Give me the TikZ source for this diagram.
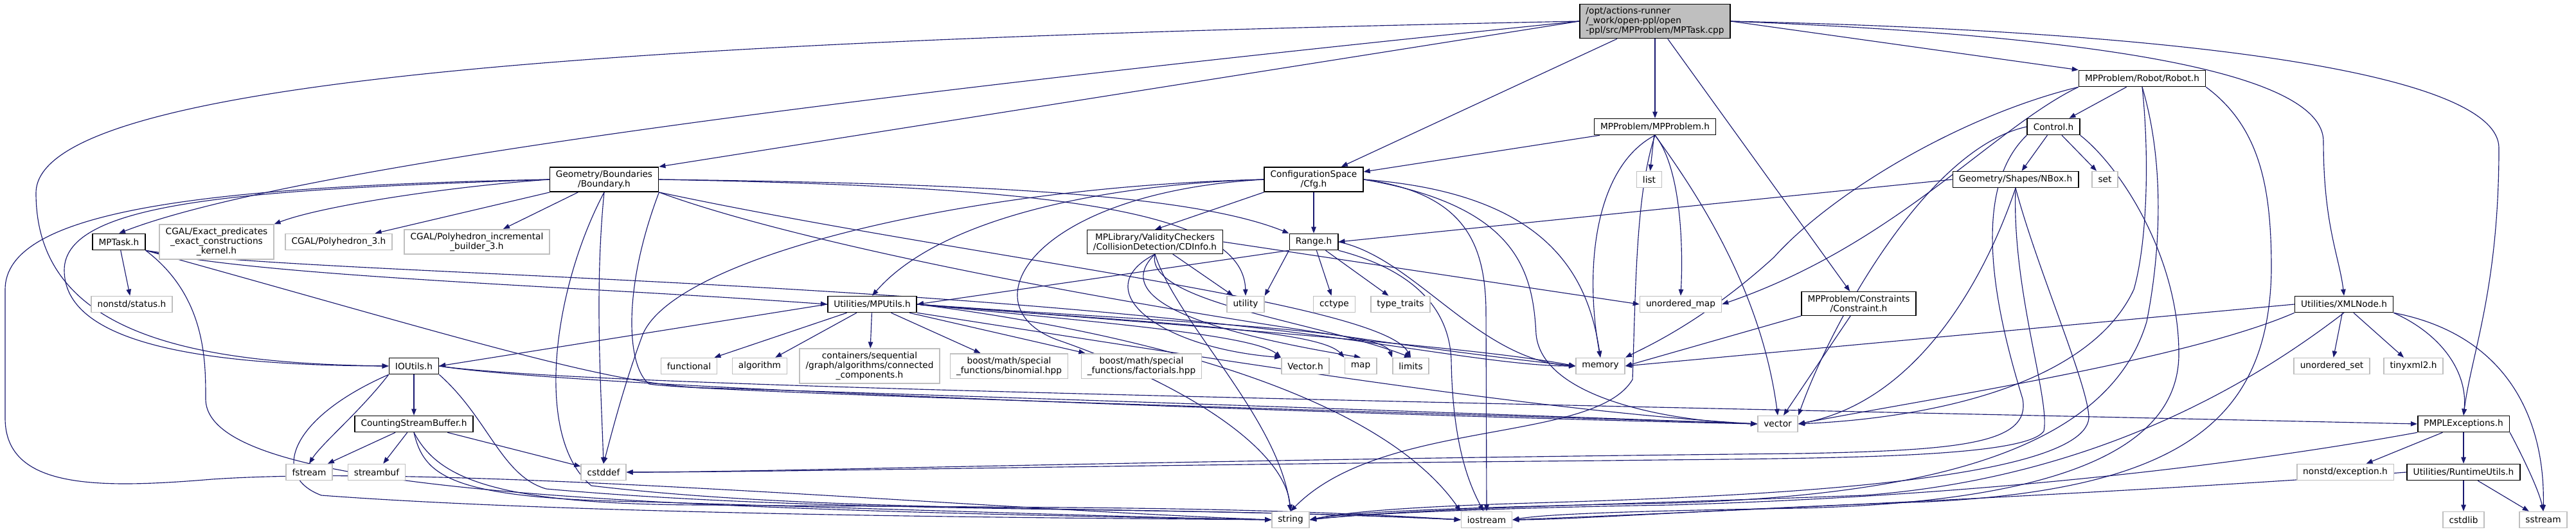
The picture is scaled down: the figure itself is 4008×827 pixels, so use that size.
\documentclass[tikz,border=0pt]{standalone}
\usepackage{fontspec}
\setmainfont{DejaVu Sans}
\usetikzlibrary{arrows.meta,backgrounds}
\definecolor{edgeblue}{HTML}{191970}
\definecolor{sysgray}{HTML}{BFBFBF}

\begin{document}
\begin{tikzpicture}[x=0.02cm,y=-0.02cm,
    hdr/.style={draw=black, line width=0.9pt, fill=white, inner xsep=0.19cm, inner ysep=0.1cm,
      minimum height=0.5cm, align=center, font=\fontsize{7.8}{8.5}\selectfont},
    sys/.style={hdr, draw=sysgray},
    dep/.style={-{Triangle[length=0.2cm,width=0.15cm]}, draw=edgeblue, fill=none, line width=0.65pt}]
    \useasboundingbox (0,0) rectangle (4008,827);
    % top rows
    \node[hdr, fill=sysgray, align=left] (main) at (2575,33) {/opt/actions-runner\\/\_work/open-ppl/open\\-ppl/src/MPProblem/MPTask.cpp};
    \node[hdr] (robot) at (3333,122) {MPProblem/Robot/Robot.h};
    \node[hdr] (mpproblem) at (2575,197) {MPProblem/MPProblem.h};
    \node[hdr] (control) at (3195,197) {Control.h};
    \node[hdr] (boundary) at (940,279) {Geometry/Boundaries\\/Boundary.h};
    \node[hdr] (cfg) at (2044,279) {ConfigurationSpace\\/Cfg.h};
    \node[sys] (list) at (2566,279) {list};
    \node[hdr] (nbox) at (3136,279) {Geometry/Shapes/NBox.h};
    \node[sys] (set) at (3275,279) {set};
    \node[hdr] (mptaskh) at (185,376) {MPTask.h};
    \node[sys] (cgalexact) at (337,376) {CGAL/Exact\_predicates\\\_exact\_constructions\\\_kernel.h};
    \node[sys] (cgalpoly) at (527,376) {CGAL/Polyhedron\_3.h};
    \node[sys] (cgalinc) at (742,376) {CGAL/Polyhedron\_incremental\\\_builder\_3.h};
    \node[hdr] (cdinfo) at (1797,376) {MPLibrary/ValidityCheckers\\/CollisionDetection/CDInfo.h};
    \node[hdr] (range) at (2044,376) {Range.h};
    % middle rows
    \node[sys] (status) at (205,473) {nonstd/status.h};
    \node[hdr] (mputils) at (1357,473) {Utilities/MPUtils.h};
    \node[sys] (utility) at (1938,473) {utility};
    \node[sys] (cctype) at (2076,473) {cctype};
    \node[sys] (typetraits) at (2179,473) {type\_traits};
    \node[sys] (umap) at (2615,473) {unordered\_map};
    \node[hdr] (constraint) at (2892,472) {MPProblem/Constraints\\/Constraint.h};
    \node[hdr] (xmlnode) at (3647,473) {Utilities/XMLNode.h};
    \node[hdr] (ioutils) at (644,569) {IOUtils.h};
    \node[sys] (functional) at (1072,569) {functional};
    \node[sys] (algorithm) at (1182,569) {algorithm};
    \node[sys] (containers) at (1353,569) {containers/sequential\\/graph/algorithms/connected\\\_components.h};
    \node[sys] (binomial) at (1570,569) {boost/math/special\\\_functions/binomial.hpp};
    \node[sys] (factorials) at (1776,569) {boost/math/special\\\_functions/factorials.hpp};
    \node[sys] (vectorh) at (2031,569) {Vector.h};
    \node[sys] (map) at (2117,569) {map};
    \node[sys] (limits) at (2195,569) {limits};
    \node[sys] (memory) at (2490,569) {memory};
    \node[sys] (uset) at (3628,569) {unordered\_set};
    \node[sys] (tinyxml) at (3755,569) {tinyxml2.h};
    % bottom rows
    \node[hdr] (countsb) at (644,659) {CountingStreamBuffer.h};
    \node[sys] (vector) at (2766,659) {vector};
    \node[hdr] (pmplexc) at (3833,659) {PMPLExceptions.h};
    \node[sys] (fstream) at (481,734) {fstream};
    \node[sys] (streambuf) at (586,734) {streambuf};
    \node[sys] (cstddef) at (939,734) {cstddef};
    \node[sys] (nexc) at (3649,734) {nonstd/exception.h};
    \node[hdr] (runtime) at (3833,734) {Utilities/RuntimeUtils.h};
    \node[sys] (string) at (2008,808) {string};
    \node[sys] (iostream) at (2313,808) {iostream};
    \node[sys] (cstdlib) at (3833,808) {cstdlib};
    \node[sys] (sstream) at (3957,808) {sstream};

    \begin{scope}[on background layer]
    \fill[white] (0,0) rectangle (4008,827);
    % MPTask.cpp
    \draw[dep] (main.west) .. controls (1000,62) and (56,120) .. (56,300) .. controls (56,520) and (300,565) .. (ioutils.west);
    \draw[dep] (main.west) .. controls (1700,110) and (500,240) .. (mptaskh.north);
    \draw[dep] (main.west) -- (boundary.north east);
    \draw[dep] (main) -- (cfg);
    \draw[dep] (main) -- (mpproblem);
    \draw[dep] (main) -- (constraint);
    \draw[dep] (main.east) -- (robot.north west);
    \draw[dep] (main.east) .. controls (3250,55) and (3615,110) .. (3615,220) .. controls (3615,350) and (3640,400) .. (xmlnode.north);
    \draw[dep] (main.east) .. controls (3450,50) and (3888,120) .. (3888,230) .. controls (3888,450) and (3845,550) .. (pmplexc.north);
    % MPTask.h
    \draw[dep] (mptaskh) -- (status);
    \draw[dep] (mptaskh.south east) .. controls (400,430) and (900,445) .. (mputils.west);
    \draw[dep] (mptaskh.south east) .. controls (450,425) and (1300,430) .. (2000,515) .. controls (2200,540) and (2350,569) .. (memory.west);
    \draw[dep] (mptaskh.south east) .. controls (700,520) and (950,600) .. (1100,603) .. controls (1800,625) and (2500,650) .. (vector.west);
    \draw[dep] (mptaskh.south east) .. controls (320,460) and (320,560) .. (320,620) .. controls (320,760) and (900,790) .. (string.west);
    % Boundary.h
    \draw[dep] (boundary.west) .. controls (700,290) and (500,320) .. (cgalexact.north east);
    \draw[dep] (boundary) -- (cgalpoly);
    \draw[dep] (boundary) -- (cgalinc);
    \draw[dep] (boundary.west) .. controls (400,295) and (100,310) .. (100,420) .. controls (100,530) and (300,568) .. (ioutils.west);
    \draw[dep] (boundary.west) .. controls (300,290) and (8,330) .. (8,450) -- (8,650) .. controls (8,760) and (150,760) .. (330,745) .. controls (700,720) and (1500,790) .. (string.west);
    \draw[dep] (boundary.east) .. controls (1500,285) and (1850,300) .. (range.north west);
    \draw[dep] (boundary.east) .. controls (1600,290) and (1935,320) .. (utility.north);
    \draw[dep] (boundary.south) .. controls (925,450) and (935,600) .. (cstddef.north);
    \draw[dep] (boundary.south) .. controls (860,450) and (830,680) .. (920,755) .. controls (1300,800) and (1800,785) .. (iostream.west);
    \draw[dep] (boundary.south east) .. controls (968,450) and (975,570) .. (1010,597) .. controls (1100,612) and (2500,650) .. (vector.west);
    \draw[dep] (boundary.south east) .. controls (1300,400) and (2000,520) .. (memory.west);
    \draw[dep] (boundary.south east) .. controls (1500,400) and (2150,470) .. (limits.north);
    % Cfg.h
    \draw[dep] (cfg) -- (range);
    \draw[dep] (cfg.south west) -- (cdinfo.north);
    \draw[dep] (cfg.west) .. controls (1750,285) and (1470,330) .. (mputils.north);
    \draw[dep] (cfg.west) .. controls (1500,290) and (1050,400) .. (1000,520) .. controls (970,600) and (950,680) .. (cstddef.north);
    \draw[dep] (cfg.west) .. controls (1600,300) and (1500,480) .. (1650,530) .. controls (1850,600) and (2000,700) .. (string.north);
    \draw[dep] (cfg.east) .. controls (2280,300) and (2310,380) .. (2312,480) -- (iostream.north);
    \draw[dep] (cfg.east) .. controls (2360,320) and (2385,420) .. (2390,520) .. controls (2400,620) and (2600,655) .. (vector.west);
    \draw[dep] (cfg.east) .. controls (2400,300) and (2470,420) .. (memory.north);
    % CDInfo.h
    \draw[dep] (cdinfo.east) -- (umap.west);
    \draw[dep] (cdinfo) -- (utility);
    \draw[dep] (cdinfo.south) .. controls (1690,450) and (1800,540) .. (vectorh.north west);
    \draw[dep] (cdinfo.south) .. controls (1720,470) and (1900,520) .. (map.north);
    \draw[dep] (cdinfo.south) .. controls (1780,470) and (2050,500) .. (limits.north);
    \draw[dep] (cdinfo.south) .. controls (1830,500) and (1990,650) .. (string.north);
    % Range.h
    \draw[dep] (range.south west) -- (mputils.east);
    \draw[dep] (range) -- (cctype);
    \draw[dep] (range) -- (typetraits);
    \draw[dep] (range.south west) -- (utility.north east);
    \draw[dep] (range.south east) .. controls (2200,420) and (2255,480) .. (2258,560) .. controls (2260,700) and (2290,760) .. (iostream.110);
    \draw[dep] (range.east) .. controls (2200,400) and (2300,560) .. (memory.west);
    % MPUtils.h
    \draw[dep] (mputils) -- (functional);
    \draw[dep] (mputils) -- (algorithm);
    \draw[dep] (mputils) -- (containers);
    \draw[dep] (mputils) -- (binomial);
    \draw[dep] (mputils) -- (factorials);
    \draw[dep] (mputils.west) -- (ioutils.east);
    \draw[dep] (mputils.east) .. controls (1700,500) and (1950,520) .. (vectorh.north west);
    \draw[dep] (mputils.east) .. controls (1750,500) and (2050,510) .. (map.north west);
    \draw[dep] (mputils.east) .. controls (1800,500) and (2150,510) .. (limits.north west);
    \draw[dep] (mputils.east) .. controls (1900,510) and (2300,540) .. (memory.west);
    \draw[dep] (mputils.south east) .. controls (1900,560) and (2400,640) .. (vector.west);
    \draw[dep] (mputils.east) .. controls (1800,520) and (2150,620) .. (iostream.north west);
    % MPProblem.h
    \draw[dep] (mpproblem) -- (cfg);
    \draw[dep] (mpproblem) -- (list);
    \draw[dep] (mpproblem.south) .. controls (2615,260) and (2619,380) .. (umap.north);
    \draw[dep] (mpproblem.south) .. controls (2480,260) and (2465,420) .. (memory.north);
    \draw[dep] (mpproblem.south) .. controls (2640,300) and (2740,450) .. (vector.north);
    \draw[dep] (mpproblem.south) .. controls (2545,300) and (2545,450) .. (2540,590) .. controls (2480,690) and (2150,650) .. (string.north);
    % Robot.h
    \draw[dep] (robot) -- (control);
    \draw[dep] (robot.south west) .. controls (3100,200) and (2950,380) .. (umap.east);
    \draw[dep] (robot.south west) .. controls (3050,180) and (2850,300) .. (2760,400) .. controls (2650,500) and (2560,540) .. (memory.north east);
    \draw[dep] (robot.south) .. controls (3345,250) and (3340,380) .. (3320,450) .. controls (3250,600) and (3000,650) .. (vector.east);
    \draw[dep] (robot.south east) .. controls (3520,200) and (3534,300) .. (3534,420) .. controls (3530,650) and (3400,760) .. (3000,780) .. controls (2700,790) and (2450,808) .. (iostream.east);
    \draw[dep] (robot.south) .. controls (3370,260) and (3360,400) .. (3340,500) .. controls (3280,700) and (3000,770) .. (2600,782) .. controls (2300,788) and (2100,795) .. (string.east);
    % Control.h
    \draw[dep] (control) -- (nbox);
    \draw[dep] (control) -- (set);
    \draw[dep] (control.west) .. controls (3000,230) and (2850,500) .. (vector.north east);
    \draw[dep] (control.south west) .. controls (3060,300) and (3110,500) .. (3147,620) .. controls (3160,690) and (3050,700) .. (2800,705) .. controls (1800,715) and (1200,734) .. (cstddef.east);
    \draw[dep] (control.south east) .. controls (3300,260) and (3390,400) .. (3390,550) .. controls (3390,700) and (3200,780) .. (2800,790) .. controls (2500,795) and (2400,800) .. (iostream.east);
    % NBox.h
    \draw[dep] (nbox.west) -- (range.east);
    \draw[dep] (nbox.south) .. controls (3100,400) and (3000,620) .. (vector.east);
    \draw[dep] (nbox.south) .. controls (3130,450) and (3190,620) .. (3180,670) .. controls (3150,715) and (2800,712) .. (2500,716) .. controls (1800,722) and (1200,734) .. (cstddef.east);
    \draw[dep] (nbox.south) .. controls (3170,420) and (3250,600) .. (3250,650) .. controls (3240,760) and (2600,775) .. (2350,783) .. controls (2200,788) and (2100,795) .. (string.east);
    % Constraint.h
    \draw[dep] (constraint.south west) -- (memory.east);
    \draw[dep] (constraint) -- (vector);
    % XMLNode.h
    \draw[dep] (xmlnode.west) -- (memory.east);
    \draw[dep] (xmlnode.south west) .. controls (3400,560) and (3000,620) .. (vector.east);
    \draw[dep] (xmlnode.south) .. controls (3550,560) and (3300,740) .. (2900,770) .. controls (2500,785) and (2200,790) .. (string.east);
    \draw[dep] (xmlnode) -- (uset);
    \draw[dep] (xmlnode) -- (tinyxml);
    \draw[dep] (xmlnode.south east) .. controls (3800,520) and (3840,580) .. (pmplexc.north);
    \draw[dep] (xmlnode.south east) .. controls (3900,520) and (3960,650) .. (sstream.north);
    % PMPLExceptions.h
    \draw[dep] (pmplexc) -- (nexc);
    \draw[dep] (pmplexc) -- (runtime);
    \draw[dep] (pmplexc.south east) .. controls (3920,700) and (3950,760) .. (sstream.north);
    \draw[dep] (pmplexc.south west) .. controls (3500,720) and (3100,770) .. (2600,785) .. controls (2300,790) and (2100,800) .. (string.east);
    % RuntimeUtils.h
    \draw[dep] (runtime) -- (cstdlib);
    \draw[dep] (runtime) -- (sstream);
    \draw[dep] (runtime.west) .. controls (3400,760) and (2800,790) .. (iostream.east);
    % IOUtils.h
    \draw[dep] (ioutils) -- (countsb);
    \draw[dep] (ioutils.south west) .. controls (560,640) and (500,690) .. (fstream.north);
    \draw[dep] (ioutils.east) .. controls (900,600) and (2000,620) .. (pmplexc.west);
    \draw[dep] (ioutils.east) .. controls (900,605) and (2300,650) .. (vector.west);
    \draw[dep] (ioutils.south west) .. controls (450,650) and (420,740) .. (500,770) .. controls (900,800) and (1600,805) .. (string.west);
    \draw[dep] (ioutils.south east) .. controls (760,650) and (780,740) .. (850,760) .. controls (1300,800) and (1800,785) .. (iostream.west);
    % CountingStreamBuffer.h
    \draw[dep] (countsb) -- (fstream);
    \draw[dep] (countsb) -- (streambuf);
    \draw[dep] (countsb) -- (cstddef);
    \draw[dep] (countsb.south) .. controls (660,740) and (700,775) .. (1000,780) .. controls (1500,795) and (1800,805) .. (string.west);
    \draw[dep] (countsb.south) .. controls (680,740) and (760,785) .. (1100,785) .. controls (1600,790) and (1900,785) .. (iostream.west);
    \end{scope}
\end{tikzpicture}
\end{document}
